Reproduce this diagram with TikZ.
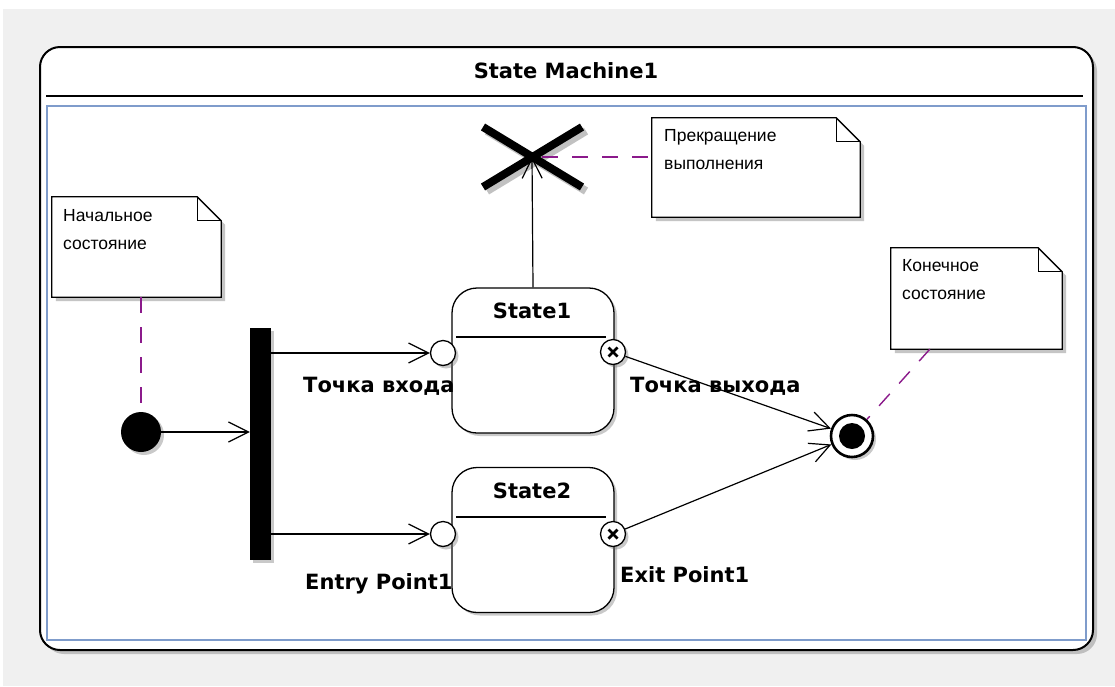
\documentclass[tikz,border=0pt]{standalone}
\usepackage{fontspec}
\setmainfont{Liberation Sans}
\newfontfamily\boldfam{DejaVu Sans}
\usetikzlibrary{arrows.meta,shadows,calc}
\definecolor{bggray}{HTML}{F0F0F0}
\definecolor{frameblue}{HTML}{7F9CCB}
\definecolor{notepurple}{HTML}{8B1A8B}
\tikzset{
  ln/.style={line width=1.3pt},
  arr/.style={line width=1.2pt,-{Straight Barb[length=20pt,width=20pt,line width=1.2pt]}},
  anchorline/.style={line width=1.4pt,color=notepurple,dash pattern=on 16pt off 14pt},
  shad/.style={drop shadow={shadow xshift=3pt,shadow yshift=-3pt,opacity=0.35,fill=black!60}},
  statebox/.style={draw,ln,fill=white,rounded corners=25pt,minimum width=162pt,minimum height=145pt,inner sep=0pt,shad},
  bfont/.style={font=\boldfam\bfseries\fontsize{21}{24}\selectfont},
  stitle/.style={bfont},
  lbl/.style={bfont,inner sep=0pt},
  entrypt/.style={circle,draw,ln,fill=white,minimum size=25pt,inner sep=0pt,shad},
  exitpt/.style={circle,draw,ln,fill=white,minimum size=25pt,inner sep=0pt,shad,
    path picture={\draw[line width=2.8pt] ($(path picture bounding box.center)+(-4.5,-4.5)$) -- ($(path picture bounding box.center)+(4.5,4.5)$)
      ($(path picture bounding box.center)+(-4.5,4.5)$) -- ($(path picture bounding box.center)+(4.5,-4.5)$);}},
  notebox/.style={minimum width=#1,inner sep=0pt},
  notetext/.style={font=\fontsize{17.5}{28}\selectfont,align=left,inner sep=0pt,anchor=north west},
}
\newcommand{\notepath}[1]{%
  \fill[black!45,opacity=0.5] ($(#1.north east)+(4,28)$) -- ($(#1.south east)+(4,4)$) -- ($(#1.south west)+(4,4)$) -- ($(#1.south west)+(4,0)$) -- ($(#1.south east)+(0,0)$) -- ($(#1.north east)+(0,24)$) -- cycle;
  \draw[ln,fill=white] (#1.north west) -- ($(#1.north east)+(-24,0)$) -- ($(#1.north east)+(0,24)$) -- (#1.south east) -- (#1.south west) -- cycle;
  \draw[ln] ($(#1.north east)+(-24,0)$) -- ($(#1.north east)+(-24,24)$) -- ($(#1.north east)+(0,24)$);
}
\begin{document}
\begin{tikzpicture}[x=1pt,y=-1pt]
\useasboundingbox (0,0) rectangle (1115,686);
\fill[white] (0,0) rectangle (1115,686);
\fill[bggray] (3,9) rectangle (1115,686);
% outer frame
\node[draw,line width=2pt,fill=white,rounded corners=20pt,minimum width=1053pt,minimum height=603pt,inner sep=0pt,
  drop shadow={shadow xshift=4pt,shadow yshift=-4pt,opacity=0.35,fill=black!60}] (frame) at (566.5,348.5) {};
\node[bfont] (title) at (566,71) {State Machine1};
\draw[line width=1.6pt] (46,96) -- (1083,96);
\node[draw=frameblue,line width=2.5pt,minimum width=1039pt,minimum height=534pt,inner sep=0pt] (inner) at (566.5,373) {};
% notes
\node[notebox=169pt,minimum height=100pt] (n1) at (136.5,247) {};
\notepath{n1}
\node[notetext] (n1t) at (63,209) {Начальное\\состояние};
\node[notebox=208pt,minimum height=99pt] (n2) at (756,167.5) {};
\notepath{n2}
\node[notetext] (n2t) at (664,129) {Прекращение\\выполнения};
\node[notebox=171pt,minimum height=101pt] (n3) at (976.5,298.5) {};
\notepath{n3}
\node[notetext] (n3t) at (902,259) {Конечное\\состояние};
% initial
\node[circle,fill=black,minimum size=40pt,inner sep=0pt,shad] (init) at (141,432) {};
% fork
\node[fill=black,minimum width=21pt,minimum height=232pt,inner sep=0pt,shad] (fork) at (260.5,444) {};
% states
\node[statebox] (s1) at (533,360.5) {};
\node[stitle] (s1t) at (532,311) {State1};
\draw[ln] (456,337) -- (606,337);
\node[statebox] (s2) at (533,540) {};
\node[stitle] (s2t) at (532,491) {State2};
\draw[ln] (456,517) -- (606,517);
\node[entrypt] (en1) at (443,353) {};
\node[exitpt] (ex1) at (613,352) {};
\node[entrypt] (en2) at (443,534) {};
\node[exitpt] (ex2) at (613,534) {};
\node[lbl,anchor=west] (en1l) at (303,386) {Точка входа};
\node[lbl,anchor=west] (ex1l) at (630,386) {Точка выхода};
\node[lbl,anchor=west] (en2l) at (305,584) {Entry Point1};
\node[lbl,anchor=west] (ex2l) at (620,575) {Exit Point1};
% final
\node[circle,draw,line width=2.6pt,fill=white,minimum size=42pt,inner sep=0pt,shad] (fin) at (852,436) {};
\node[circle,fill=black,minimum size=26pt,inner sep=0pt] (finc) at (fin) {};
% terminate
\coordinate (term) at (532,157);
\begin{scope}[line width=8pt]
\draw[black!40,opacity=0.6] (487,131) -- (586,191) (487,191) -- (586,131);
\draw (483,127) -- (582,187) (483,187) -- (582,127);
\end{scope}
% connectors
\draw[arr] (init) -- (fork.west |- init);
\draw[arr] (fork.east |- en1) -- (en1);
\draw[arr] (fork.east |- en2) -- (en2);
\draw[arr] (ex1) -- (fin);
\draw[arr] (ex2) -- (fin);
\draw[arr] (s1.north) -- (term);
% note anchors
\draw[anchorline] (init |- n1.south) -- (init);
\draw[anchorline] ($(term)+(10,0)$) -- (n2.west |- term);
\draw[anchorline] ($(n3.south west)+(39,0)$) -- (fin);
\end{tikzpicture}
\end{document}
